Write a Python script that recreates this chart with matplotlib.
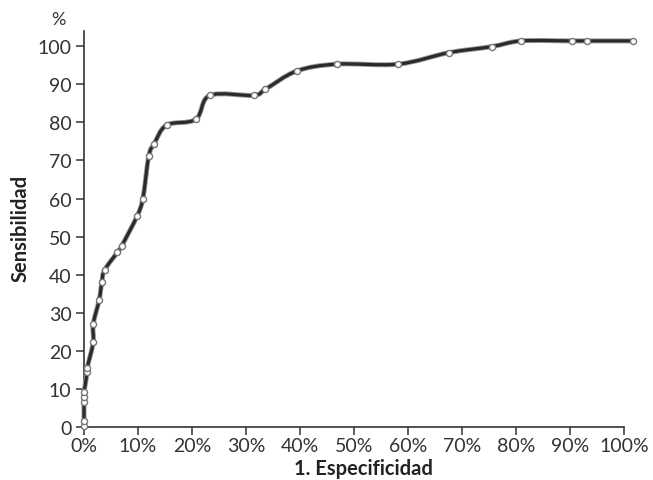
import matplotlib
matplotlib.use('Agg')
import matplotlib.pyplot as plt
import matplotlib.patheffects as pe
from matplotlib.path import Path
from matplotlib.patches import PathPatch
import numpy as np

# 1 - especificidad (%) and sensibilidad (%)
fpr = [0, 0, 0, 0, 0, 0.6, 0.6, 1.7, 1.7, 2.8, 3.3, 3.8, 6.2, 7.0, 9.8,
       10.9, 12.0, 13.0, 15.3, 20.7, 23.3, 31.4, 33.6, 39.4, 46.8, 58.2,
       67.5, 75.5, 81.0, 90.3, 93.1, 101.7]
tpr = [0.2, 1.7, 6.5, 7.8, 9.1, 14.4, 15.6, 22.2, 27.0, 33.3, 38.0, 41.2,
       45.9, 47.6, 55.3, 60.0, 71.2, 74.4, 79.3, 80.8, 87.1, 87.1, 88.7,
       93.5, 95.3, 95.3, 98.3, 99.9, 101.4, 101.4, 101.4, 101.4]

xticks = list(range(0, 101, 10))
xlabels = [f'{v}%' for v in xticks]
yticks = list(range(0, 101, 10))

plt.rcParams['font.family'] = ['Lato', 'DejaVu Sans']

fig = plt.figure(figsize=(6.53, 4.81), dpi=100)
ax = fig.add_axes([84 / 653, 1 - 428 / 481, 540 / 653, 396 / 481])

# smooth curve through the points (Catmull-Rom -> cubic Bezier)
pts = np.column_stack([fpr, tpr])
verts = [pts[0]]
codes = [Path.MOVETO]
n = len(pts)
for i in range(n - 1):
    p0 = pts[max(i - 1, 0)]
    p1 = pts[i]
    p2 = pts[i + 1]
    p3 = pts[min(i + 2, n - 1)]
    c1 = p1 + (p2 - p0) / 6.0
    c2 = p2 - (p3 - p1) / 6.0
    verts += [c1, c2, p2]
    codes += [Path.CURVE4] * 3
curve = PathPatch(Path(verts, codes), facecolor='none', edgecolor='#2a2a2a',
                  lw=2.3, capstyle='round', joinstyle='round', clip_on=False,
                  zorder=3)
curve.set_path_effects([pe.Stroke(linewidth=3.6, foreground='#9a9a9a'),
                        pe.Normal()])
ax.add_patch(curve)

ax.plot(fpr, tpr, linestyle='none', marker='o', markersize=4.4,
        markerfacecolor='white', markeredgecolor='#777777',
        markeredgewidth=1.0, clip_on=False, zorder=4)

ax.set_xlim(0, 100)
ax.set_ylim(0, 104)
ax.set_xticks(xticks)
ax.set_xticklabels(xlabels)
ax.set_yticks(yticks)

for s in ['top', 'right']:
    ax.spines[s].set_visible(False)
for s in ['left', 'bottom']:
    ax.spines[s].set_color('#333333')
    ax.spines[s].set_linewidth(1.2)

ax.tick_params(axis='both', colors='#333333', labelsize=14, width=1.1,
               length=6)
ax.tick_params(axis='x', pad=1)
ax.tick_params(axis='y', pad=3)

ax.set_xlabel('1. Especificidad', fontsize=14.5, fontweight='bold',
              color='#222222')
ax.xaxis.set_label_coords(0.518, -0.078)
ax.set_ylabel('Sensibilidad', fontsize=14.5, fontweight='bold',
              color='#222222')
ax.yaxis.set_label_coords(-0.099, 0.505)
fig.text(58 / 653, 1 - 20 / 481, '%', fontsize=13, color='#333333',
         ha='center', va='center')

fig.savefig('out.png', dpi=100, facecolor='white')
